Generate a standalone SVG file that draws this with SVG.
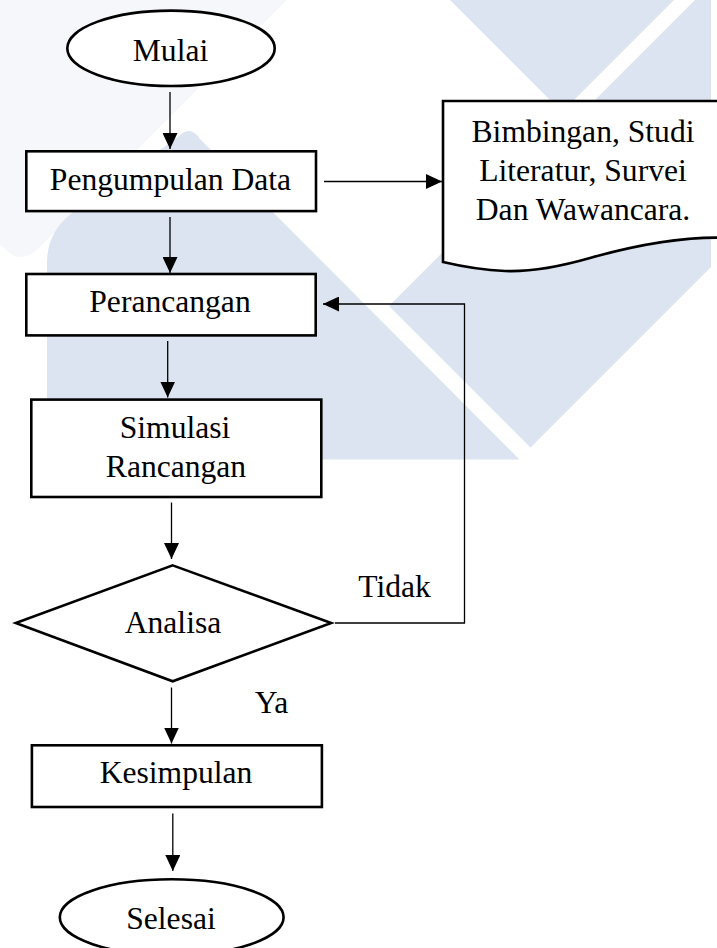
<svg xmlns="http://www.w3.org/2000/svg" width="717" height="948" viewBox="0 0 717 948">
<style>
.bg{fill:#dce3f1;stroke:none}
.faint{fill:#f6f7fa;stroke:none}
.shape{fill:#ffffff;stroke:#000000;stroke-width:2.6}
.conn{fill:none;stroke:#000000;stroke-width:1.3}
.t{font-family:"Liberation Serif","Times New Roman",serif;font-size:31.6px;fill:#000000;text-anchor:middle}
</style>
<defs>
<marker id="arr" markerUnits="userSpaceOnUse" markerWidth="16" markerHeight="15" refX="16" refY="7.5" orient="auto" viewBox="0 0 16 15">
<path d="M0,0 L16,7.5 L0,15 Z" fill="#000000"/>
</marker>
</defs>
<rect x="0" y="0" width="717" height="948" fill="#ffffff"/>
<g id="watermark">
<path class="faint" d="M0,0 L287,0 L42,245 Q27,262 12,255 L0,245 Z"/>
<path class="bg" d="M450,0 L674,0 L562,112 Z"/>
<path class="bg" d="M695,0 L711,0 L711,267 L530.5,447.5 L389,306 Z"/>
<path class="bg" d="M178,137 Q190,124 200,139 L519.5,459.5 L47,459.5 L47,263 Q47,232 72,213 Z"/>
</g>
<g id="connectors">
<path class="conn" d="M170,92 V149" marker-end="url(#arr)"/>
<path class="conn" d="M170,217 V273" marker-end="url(#arr)"/>
<path class="conn" d="M167.7,341 V397.5" marker-end="url(#arr)"/>
<path class="conn" d="M171.5,502.5 V559" marker-end="url(#arr)"/>
<path class="conn" d="M171.5,687.5 V743.5" marker-end="url(#arr)"/>
<path class="conn" d="M172.8,813.5 V871" marker-end="url(#arr)"/>
<path class="conn" d="M324,181.5 H442" marker-end="url(#arr)"/>
<path class="conn" d="M335,623 H464.5 V304 H323" marker-end="url(#arr)"/>
<text class="t" x="394.5" y="597">Tidak</text>
<text class="t" x="271.5" y="713">Ya</text>
</g>
<g id="mulai">
<ellipse class="shape" cx="171" cy="48.3" rx="103.7" ry="37.7"/>
<text class="t" x="170.5" y="61">Mulai</text>
</g>
<g id="pengumpulan">
<rect class="shape" x="26.3" y="151.3" width="289.7" height="59.8"/>
<text class="t" x="170.5" y="190">Pengumpulan Data</text>
</g>
<g id="dokumen">
<path class="shape" d="M443,101 L730,101 L730,238 C690,236 640,244 590,258 C555,268 530,272 505,271 C480,270 460,266 443,262 Z"/>
<text class="t" x="583" y="141.7">Bimbingan, Studi</text>
<text class="t" x="583" y="181">Literatur, Survei</text>
<text class="t" x="583" y="220">Dan Wawancara.</text>
</g>
<g id="perancangan">
<rect class="shape" x="26.3" y="274" width="289.4" height="61.4"/>
<text class="t" x="170" y="311.5">Perancangan</text>
</g>
<g id="simulasi">
<rect class="shape" x="31.3" y="399.6" width="290" height="97.4"/>
<text class="t" x="175" y="438">Simulasi</text>
<text class="t" x="176" y="477">Rancangan</text>
</g>
<g id="analisa">
<path class="shape" d="M172.7,565.4 L331.2,623 L172.7,681.3 L15.8,623 Z"/>
<text class="t" x="173" y="632.5">Analisa</text>
</g>
<g id="kesimpulan">
<rect class="shape" x="31.9" y="745.3" width="290" height="61.7"/>
<text class="t" x="176" y="783">Kesimpulan</text>
</g>
<g id="selesai">
<ellipse class="shape" cx="171.7" cy="917.3" rx="111.9" ry="38"/>
<text class="t" x="171" y="929">Selesai</text>
</g>
</svg>
